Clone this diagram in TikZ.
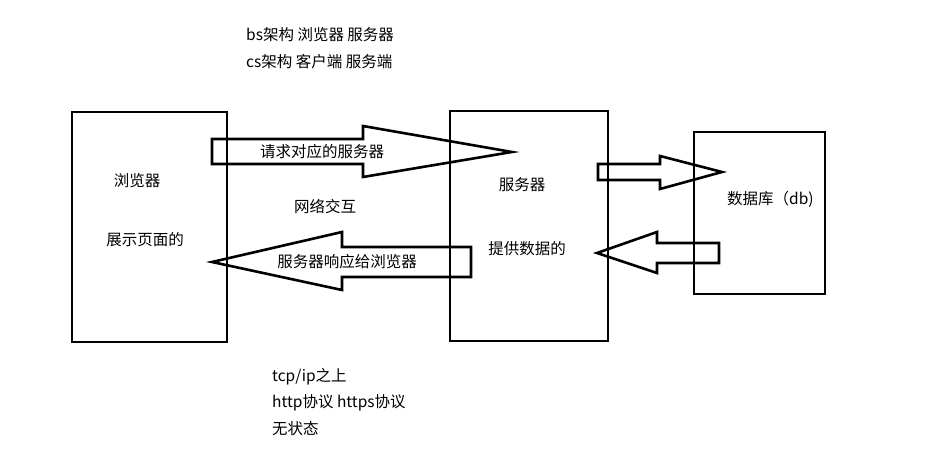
\documentclass[tikz,border=0pt]{standalone}
\usepackage{fontspec}
\setmainfont{Noto Sans CJK SC}
\begin{document}
\begin{tikzpicture}[x=1pt,y=-1pt,
  box/.style={draw=black,line width=2.8pt,rectangle,inner sep=0pt,outer sep=0pt},
  blockarrow/.style={draw=black,line width=2.6pt,line join=miter},
  lbl/.style={font=\fontsize{15.5}{18}\selectfont,inner sep=0pt},
  note/.style={font=\fontsize{15.5}{18}\selectfont,inner sep=0pt,anchor=west}]
\useasboundingbox[fill=white] (0,0) rectangle (942,454);
% boxes
\node[box,minimum width=155pt,minimum height=230pt] (browser) at (149.5,227) {};
\node[box,minimum width=158pt,minimum height=230pt] (server) at (529,226) {};
\node[box,minimum width=131pt,minimum height=162pt] (database) at (759.5,213) {};
% block arrows
\draw[blockarrow] (212,139) -- (363,139) -- (363,126) -- (512,152) -- (363,177) -- (363,164) -- (212,164) -- cycle;
\draw[blockarrow] (471,247) -- (342,247) -- (342,232) -- (212,262) -- (342,290) -- (342,277) -- (471,277) -- cycle;
\draw[blockarrow] (598,164) -- (660,164) -- (660,156) -- (722,172) -- (660,189) -- (660,180) -- (598,180) -- cycle;
\draw[blockarrow] (719,243) -- (657,243) -- (657,232) -- (597,253) -- (657,273) -- (657,263) -- (719,263) -- cycle;
% texts
\node[note] (t1) at (246,35) {bs架构 浏览器 服务器};
\node[note] (t2) at (246,62) {cs架构 客户端 服务端};
\node[lbl] (req) at (322,152) {请求对应的服务器};
\node[lbl] (resp) at (347,262) {服务器响应给浏览器};
\node[lbl] (net) at (325,207) {网络交互};
\node[lbl] (b1) at (137,181) {浏览器};
\node[lbl] (b2) at (145,240) {展示页面的};
\node[lbl] (s1) at (522,185) {服务器};
\node[lbl] (s2) at (527,249) {提供数据的};
\node[note] (db) at (727,199) {数据库（db)};
\node[note] (n1) at (272,377) {tcp/ip之上};
\node[note] (n2) at (272,403) {http协议 https协议};
\node[note] (n3) at (272,429) {无状态};
\end{tikzpicture}
\end{document}
